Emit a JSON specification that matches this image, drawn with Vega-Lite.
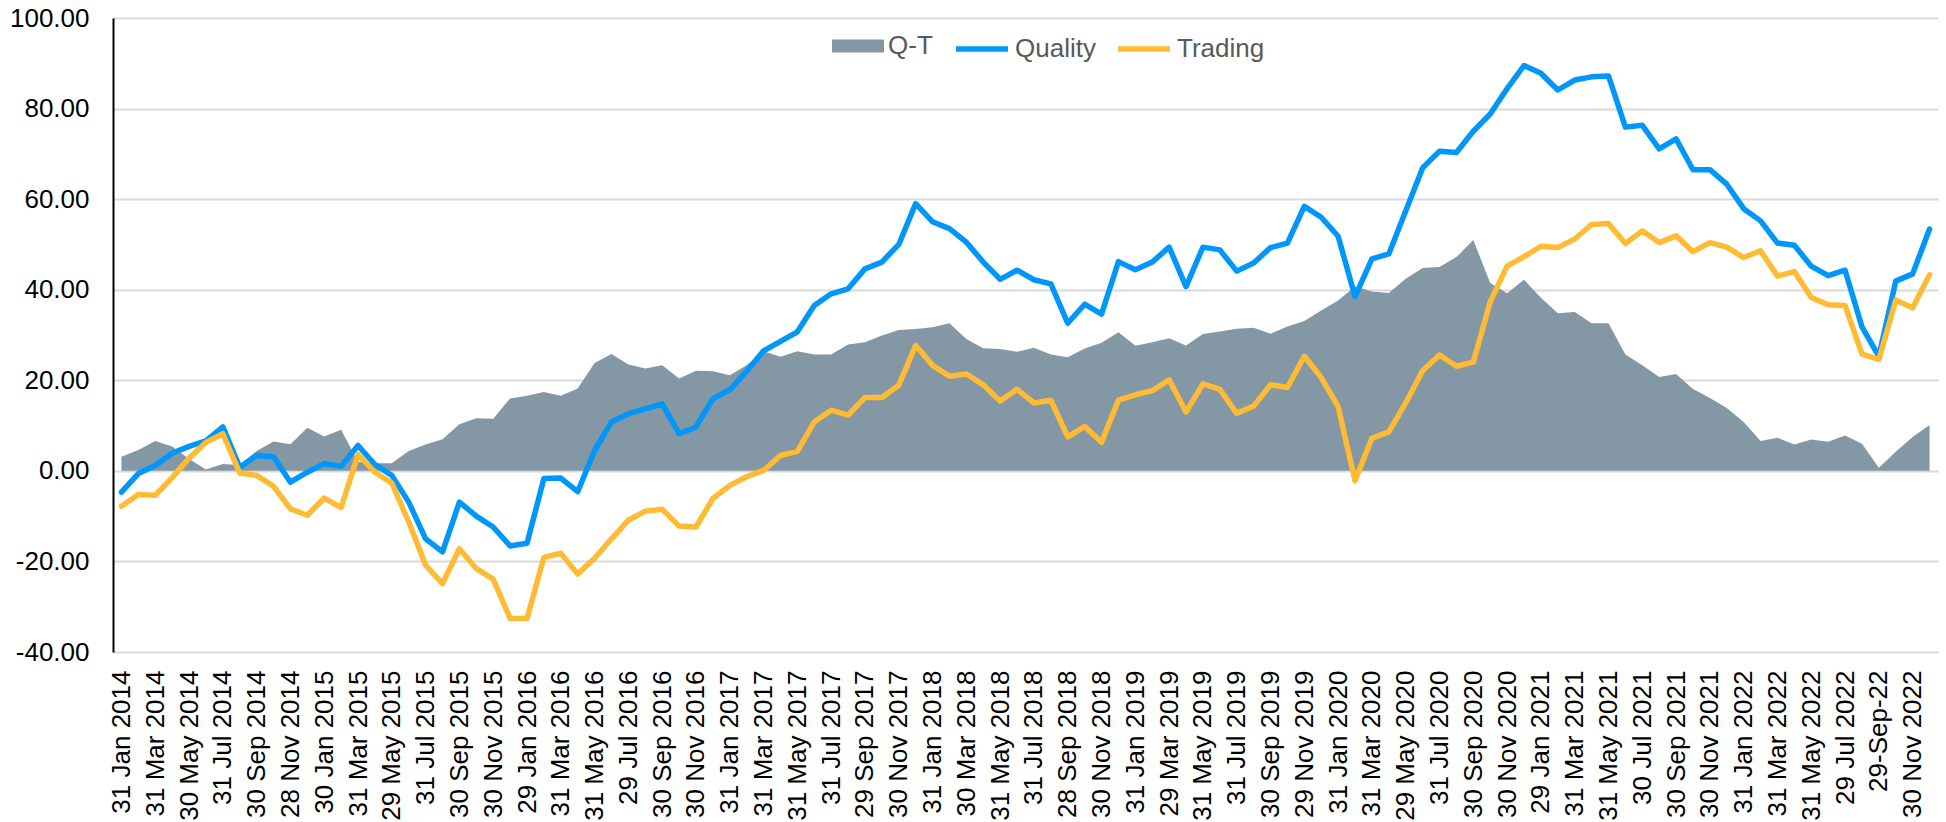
{
  "$schema": "https://vega.github.io/schema/vega-lite/v6.json",
  "width": 1825,
  "height": 634,
  "autosize": {"type": "none"},
  "padding": {"left": 113, "top": 18, "right": 8, "bottom": 170},
  "background": "white",
  "config": {
    "view": {"stroke": null},
    "font": "Liberation Sans",
    "legend": {"labelFont": "Liberation Sans", "labelFontSize": 26, "labelColor": "#595959", "padding": 0}
  },
  "data": {
    "values": [
      {"d": "31 Jan 2014", "Q-T": 3.1, "Quality": -4.7, "Trading": -7.8},
      {"d": "28 Feb 2014", "Q-T": 4.6, "Quality": -0.6, "Trading": -5.2},
      {"d": "31 Mar 2014", "Q-T": 6.6, "Quality": 1.2, "Trading": -5.4},
      {"d": "30 Apr 2014", "Q-T": 5.4, "Quality": 3.9, "Trading": -1.5},
      {"d": "30 May 2014", "Q-T": 2.6, "Quality": 5.4, "Trading": 2.8},
      {"d": "30 Jun 2014", "Q-T": 0.3, "Quality": 6.6, "Trading": 6.3},
      {"d": "31 Jul 2014", "Q-T": 1.5, "Quality": 9.7, "Trading": 8.2},
      {"d": "29 Aug 2014", "Q-T": 1.3, "Quality": 0.8, "Trading": -0.5},
      {"d": "30 Sep 2014", "Q-T": 4.4, "Quality": 3.4, "Trading": -1.0},
      {"d": "31 Oct 2014", "Q-T": 6.5, "Quality": 3.1, "Trading": -3.4},
      {"d": "28 Nov 2014", "Q-T": 5.9, "Quality": -2.5, "Trading": -8.4},
      {"d": "31 Dec 2014", "Q-T": 9.5, "Quality": -0.3, "Trading": -9.8},
      {"d": "30 Jan 2015", "Q-T": 7.6, "Quality": 1.6, "Trading": -6.0},
      {"d": "27 Feb 2015", "Q-T": 9.1, "Quality": 1.0, "Trading": -8.1},
      {"d": "31 Mar 2015", "Q-T": 2.0, "Quality": 5.6, "Trading": 3.6},
      {"d": "30 Apr 2015", "Q-T": 1.7, "Quality": 1.4, "Trading": -0.3},
      {"d": "29 May 2015", "Q-T": 1.7, "Quality": -1.0, "Trading": -2.7},
      {"d": "30 Jun 2015", "Q-T": 4.4, "Quality": -6.9, "Trading": -11.3},
      {"d": "31 Jul 2015", "Q-T": 5.8, "Quality": -15.0, "Trading": -20.8},
      {"d": "31 Aug 2015", "Q-T": 7.0, "Quality": -17.9, "Trading": -24.9},
      {"d": "30 Sep 2015", "Q-T": 10.3, "Quality": -6.9, "Trading": -17.2},
      {"d": "30 Oct 2015", "Q-T": 11.6, "Quality": -10.0, "Trading": -21.6},
      {"d": "30 Nov 2015", "Q-T": 11.5, "Quality": -12.4, "Trading": -23.9},
      {"d": "31 Dec 2015", "Q-T": 16.0, "Quality": -16.6, "Trading": -32.6},
      {"d": "29 Jan 2016", "Q-T": 16.6, "Quality": -16.0, "Trading": -32.6},
      {"d": "29 Feb 2016", "Q-T": 17.4, "Quality": -1.7, "Trading": -19.1},
      {"d": "31 Mar 2016", "Q-T": 16.6, "Quality": -1.6, "Trading": -18.2},
      {"d": "29 Apr 2016", "Q-T": 18.2, "Quality": -4.6, "Trading": -22.8},
      {"d": "31 May 2016", "Q-T": 23.8, "Quality": 4.5, "Trading": -19.3},
      {"d": "30 Jun 2016", "Q-T": 25.8, "Quality": 10.8, "Trading": -15.0},
      {"d": "29 Jul 2016", "Q-T": 23.5, "Quality": 12.6, "Trading": -10.9},
      {"d": "31 Aug 2016", "Q-T": 22.6, "Quality": 13.7, "Trading": -8.9},
      {"d": "30 Sep 2016", "Q-T": 23.3, "Quality": 14.8, "Trading": -8.5},
      {"d": "31 Oct 2016", "Q-T": 20.4, "Quality": 8.2, "Trading": -12.2},
      {"d": "30 Nov 2016", "Q-T": 22.1, "Quality": 9.7, "Trading": -12.4},
      {"d": "30 Dec 2016", "Q-T": 22.0, "Quality": 15.9, "Trading": -6.1},
      {"d": "31 Jan 2017", "Q-T": 21.1, "Quality": 17.9, "Trading": -3.2},
      {"d": "28 Feb 2017", "Q-T": 23.3, "Quality": 22.0, "Trading": -1.3},
      {"d": "31 Mar 2017", "Q-T": 26.4, "Quality": 26.5, "Trading": 0.1},
      {"d": "28 Apr 2017", "Q-T": 25.2, "Quality": 28.6, "Trading": 3.4},
      {"d": "31 May 2017", "Q-T": 26.4, "Quality": 30.7, "Trading": 4.3},
      {"d": "30 Jun 2017", "Q-T": 25.7, "Quality": 36.5, "Trading": 10.8},
      {"d": "31 Jul 2017", "Q-T": 25.7, "Quality": 39.1, "Trading": 13.4},
      {"d": "31 Aug 2017", "Q-T": 27.9, "Quality": 40.2, "Trading": 12.3},
      {"d": "29 Sep 2017", "Q-T": 28.4, "Quality": 44.6, "Trading": 16.2},
      {"d": "31 Oct 2017", "Q-T": 29.9, "Quality": 46.1, "Trading": 16.2},
      {"d": "30 Nov 2017", "Q-T": 31.1, "Quality": 50.0, "Trading": 18.9},
      {"d": "29 Dec 2017", "Q-T": 31.3, "Quality": 59.0, "Trading": 27.7},
      {"d": "31 Jan 2018", "Q-T": 31.7, "Quality": 55.0, "Trading": 23.3},
      {"d": "28 Feb 2018", "Q-T": 32.6, "Quality": 53.5, "Trading": 20.9},
      {"d": "30 Mar 2018", "Q-T": 29.1, "Quality": 50.5, "Trading": 21.4},
      {"d": "30 Apr 2018", "Q-T": 27.1, "Quality": 46.1, "Trading": 19.0},
      {"d": "31 May 2018", "Q-T": 26.9, "Quality": 42.3, "Trading": 15.4},
      {"d": "29 Jun 2018", "Q-T": 26.3, "Quality": 44.3, "Trading": 18.0},
      {"d": "31 Jul 2018", "Q-T": 27.2, "Quality": 42.2, "Trading": 15.0},
      {"d": "31 Aug 2018", "Q-T": 25.7, "Quality": 41.3, "Trading": 15.6},
      {"d": "28 Sep 2018", "Q-T": 25.1, "Quality": 32.6, "Trading": 7.5},
      {"d": "31 Oct 2018", "Q-T": 27.0, "Quality": 36.8, "Trading": 9.8},
      {"d": "30 Nov 2018", "Q-T": 28.3, "Quality": 34.6, "Trading": 6.3},
      {"d": "31 Dec 2018", "Q-T": 30.6, "Quality": 46.2, "Trading": 15.6},
      {"d": "31 Jan 2019", "Q-T": 27.6, "Quality": 44.4, "Trading": 16.8},
      {"d": "28 Feb 2019", "Q-T": 28.4, "Quality": 46.1, "Trading": 17.7},
      {"d": "29 Mar 2019", "Q-T": 29.3, "Quality": 49.4, "Trading": 20.1},
      {"d": "30 Apr 2019", "Q-T": 27.7, "Quality": 40.7, "Trading": 13.0},
      {"d": "31 May 2019", "Q-T": 30.2, "Quality": 49.4, "Trading": 19.2},
      {"d": "28 Jun 2019", "Q-T": 30.8, "Quality": 48.8, "Trading": 18.0},
      {"d": "31 Jul 2019", "Q-T": 31.4, "Quality": 44.1, "Trading": 12.7},
      {"d": "30 Aug 2019", "Q-T": 31.6, "Quality": 45.9, "Trading": 14.3},
      {"d": "30 Sep 2019", "Q-T": 30.3, "Quality": 49.3, "Trading": 19.0},
      {"d": "31 Oct 2019", "Q-T": 31.9, "Quality": 50.3, "Trading": 18.4},
      {"d": "29 Nov 2019", "Q-T": 33.1, "Quality": 58.4, "Trading": 25.3},
      {"d": "31 Dec 2019", "Q-T": 35.4, "Quality": 56.0, "Trading": 20.6},
      {"d": "31 Jan 2020", "Q-T": 37.6, "Quality": 51.8, "Trading": 14.2},
      {"d": "28 Feb 2020", "Q-T": 40.7, "Quality": 38.5, "Trading": -2.2},
      {"d": "31 Mar 2020", "Q-T": 39.6, "Quality": 46.8, "Trading": 7.2},
      {"d": "30 Apr 2020", "Q-T": 39.3, "Quality": 47.9, "Trading": 8.6},
      {"d": "29 May 2020", "Q-T": 42.4, "Quality": 57.4, "Trading": 15.0},
      {"d": "30 Jun 2020", "Q-T": 44.8, "Quality": 66.9, "Trading": 22.1},
      {"d": "31 Jul 2020", "Q-T": 45.0, "Quality": 70.6, "Trading": 25.6},
      {"d": "31 Aug 2020", "Q-T": 47.2, "Quality": 70.3, "Trading": 23.1},
      {"d": "30 Sep 2020", "Q-T": 51.0, "Quality": 75.0, "Trading": 24.0},
      {"d": "30 Oct 2020", "Q-T": 41.5, "Quality": 78.8, "Trading": 37.3},
      {"d": "30 Nov 2020", "Q-T": 39.2, "Quality": 84.4, "Trading": 45.2},
      {"d": "31 Dec 2020", "Q-T": 42.2, "Quality": 89.5, "Trading": 47.3},
      {"d": "29 Jan 2021", "Q-T": 38.2, "Quality": 87.8, "Trading": 49.6},
      {"d": "26 Feb 2021", "Q-T": 34.8, "Quality": 84.1, "Trading": 49.3},
      {"d": "31 Mar 2021", "Q-T": 35.1, "Quality": 86.3, "Trading": 51.2},
      {"d": "30 Apr 2021", "Q-T": 32.6, "Quality": 87.0, "Trading": 54.4},
      {"d": "31 May 2021", "Q-T": 32.6, "Quality": 87.2, "Trading": 54.6},
      {"d": "30 Jun 2021", "Q-T": 25.7, "Quality": 75.9, "Trading": 50.2},
      {"d": "30 Jul 2021", "Q-T": 23.3, "Quality": 76.3, "Trading": 53.0},
      {"d": "31 Aug 2021", "Q-T": 20.7, "Quality": 71.1, "Trading": 50.4},
      {"d": "30 Sep 2021", "Q-T": 21.4, "Quality": 73.3, "Trading": 51.9},
      {"d": "29 Oct 2021", "Q-T": 18.1, "Quality": 66.5, "Trading": 48.4},
      {"d": "30 Nov 2021", "Q-T": 16.1, "Quality": 66.5, "Trading": 50.4},
      {"d": "31 Dec 2021", "Q-T": 13.9, "Quality": 63.3, "Trading": 49.4},
      {"d": "31 Jan 2022", "Q-T": 10.8, "Quality": 57.9, "Trading": 47.1},
      {"d": "28 Feb 2022", "Q-T": 6.6, "Quality": 55.2, "Trading": 48.6},
      {"d": "31 Mar 2022", "Q-T": 7.3, "Quality": 50.3, "Trading": 43.0},
      {"d": "29 Apr 2022", "Q-T": 5.8, "Quality": 49.8, "Trading": 44.0},
      {"d": "31 May 2022", "Q-T": 6.9, "Quality": 45.2, "Trading": 38.3},
      {"d": "30 Jun 2022", "Q-T": 6.4, "Quality": 43.1, "Trading": 36.7},
      {"d": "29 Jul 2022", "Q-T": 7.8, "Quality": 44.3, "Trading": 36.5},
      {"d": "31 Aug 2022", "Q-T": 6.0, "Quality": 31.8, "Trading": 25.8},
      {"d": "29-Sep-22", "Q-T": 0.7, "Quality": 25.3, "Trading": 24.6},
      {"d": "31 Oct 2022", "Q-T": 4.2, "Quality": 41.9, "Trading": 37.7},
      {"d": "30 Nov 2022", "Q-T": 7.5, "Quality": 43.5, "Trading": 36.0},
      {"d": "30 Dec 2022", "Q-T": 10.1, "Quality": 53.4, "Trading": 43.3}
    ]
  },
  "transform": [{"fold": ["Q-T", "Quality", "Trading"], "as": ["series", "value"]}],
  "encoding": {
    "x": {
      "field": "d",
      "type": "ordinal",
      "sort": null,
      "scale": {"type": "point", "padding": 0.5},
      "axis": {
        "title": null,
        "values": ["31 Jan 2014", "31 Mar 2014", "30 May 2014", "31 Jul 2014", "30 Sep 2014", "28 Nov 2014", "30 Jan 2015", "31 Mar 2015", "29 May 2015", "31 Jul 2015", "30 Sep 2015", "30 Nov 2015", "29 Jan 2016", "31 Mar 2016", "31 May 2016", "29 Jul 2016", "30 Sep 2016", "30 Nov 2016", "31 Jan 2017", "31 Mar 2017", "31 May 2017", "31 Jul 2017", "29 Sep 2017", "30 Nov 2017", "31 Jan 2018", "30 Mar 2018", "31 May 2018", "31 Jul 2018", "28 Sep 2018", "30 Nov 2018", "31 Jan 2019", "29 Mar 2019", "31 May 2019", "31 Jul 2019", "30 Sep 2019", "29 Nov 2019", "31 Jan 2020", "31 Mar 2020", "29 May 2020", "31 Jul 2020", "30 Sep 2020", "30 Nov 2020", "29 Jan 2021", "31 Mar 2021", "31 May 2021", "30 Jul 2021", "30 Sep 2021", "30 Nov 2021", "31 Jan 2022", "31 Mar 2022", "31 May 2022", "29 Jul 2022", "29-Sep-22", "30 Nov 2022"],
        "labelAngle": -90,
        "labelFont": "Liberation Sans",
        "labelFontSize": 26,
        "labelColor": "#000000",
        "labelPadding": 18,
        "labelOverlap": false,
        "ticks": false,
        "domain": false,
        "grid": false
      }
    }
  },
  "layer": [
    {
      "transform": [{"filter": "datum.series === 'Q-T'"}],
      "mark": {"type": "area", "opacity": 1, "interpolate": "linear"},
      "encoding": {
        "y": {
          "field": "value",
          "type": "quantitative",
          "scale": {"domain": [-40, 100], "nice": false, "zero": false},
          "axis": {
            "title": null,
            "values": [-40, -20, 0, 20, 40, 60, 80, 100],
            "labelExpr": "datum.value < 0 ? '-' + format(-datum.value, '.2f') : format(datum.value, '.2f')",
            "labelFont": "Liberation Sans",
            "labelFontSize": 26,
            "labelColor": "#000000",
            "labelPadding": 24,
            "ticks": false,
            "domain": true,
            "domainColor": "#000000",
            "domainWidth": 2,
            "grid": true,
            "gridColor": "#D9D9D9",
            "gridWidth": 2
          }
        },
        "fill": {
          "field": "series",
          "type": "nominal",
          "scale": {"domain": ["Q-T"], "range": ["#8497A4"]},
          "legend": {
            "title": null,
            "orient": "none",
            "direction": "horizontal",
            "legendX": 719,
            "legendY": 2,
            "symbolType": "M-1,-0.25L1,-0.25L1,0.25L-1,0.25Z",
            "symbolSize": 2704,
            "symbolStrokeWidth": 0,
            "labelOffset": 4
          }
        }
      }
    },
    {
      "mark": {"type": "rule", "color": "#000000", "strokeWidth": 2},
      "encoding": {"y": {"datum": 0}}
    },
    {
      "transform": [{"filter": "datum.series !== 'Q-T'"}],
      "mark": {"type": "line", "strokeWidth": 5.5, "strokeJoin": "round", "strokeCap": "round"},
      "encoding": {
        "y": {"field": "value", "type": "quantitative"},
        "stroke": {
          "field": "series",
          "type": "nominal",
          "scale": {"domain": ["Quality", "Trading"], "range": ["#0096FA", "#FFBB33"]},
          "legend": {
            "title": null,
            "orient": "none",
            "direction": "horizontal",
            "legendX": 840,
            "legendY": 2,
            "symbolType": "stroke",
            "symbolSize": 2704,
            "symbolStrokeWidth": 5.5,
            "labelOffset": 4,
            "columnPadding": 11
          }
        }
      }
    }
  ]
}
